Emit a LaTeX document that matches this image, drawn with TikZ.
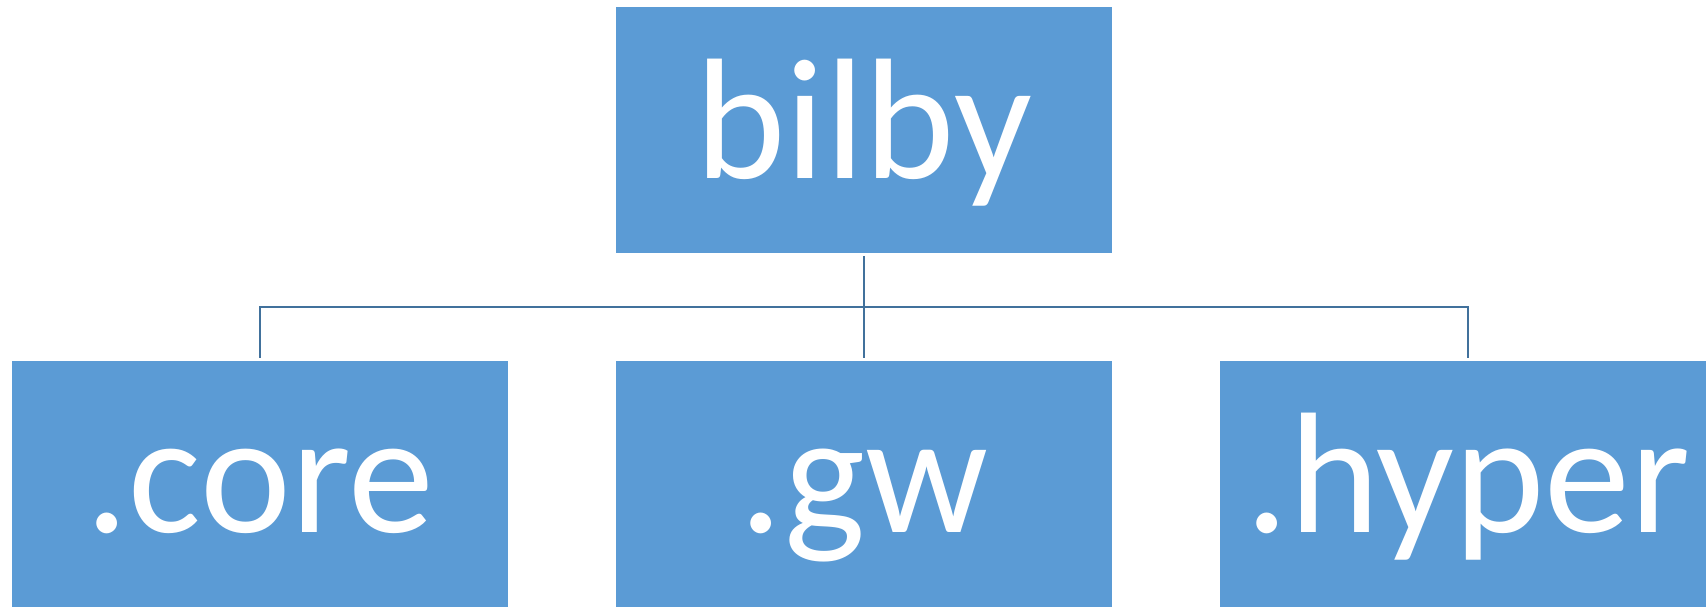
\documentclass[tikz,border=0pt]{standalone}
\usepackage{fontspec}
\setmainfont{Carlito}
\definecolor{boxblue}{HTML}{5B9BD5}
\definecolor{linkblue}{HTML}{41719C}
\begin{document}
\begin{tikzpicture}[x=1pt,y=-1pt,
  module/.style={rectangle, fill=boxblue, draw=none, inner sep=0pt,
    minimum width=496pt, minimum height=246pt,
    text=white, font=\fontsize{172}{200}\selectfont,
    text height=147pt, text depth=50pt},
  link/.style={draw=linkblue, line width=2.5pt, line join=miter}]
  \useasboundingbox (0,0) rectangle (1706,606);

  % package and its subpackages
  \node[module] (bilby) at (864,130) {bilby};
  \node[module] (core)  at (260,484) {.core};
  \node[module] (gw)    at (864,484) {.gw};
  \node[module] (hyper) at (1468,484) {.hyper};

  % tree connectors
  \coordinate (bus) at (864,307);
  \draw[link] ([yshift=-3pt]bilby.south) -- ([yshift=3pt]gw.north);
  \draw[link] ([yshift=3pt]core.north) |- (bus) -| ([yshift=3pt]hyper.north);
\end{tikzpicture}
\end{document}
